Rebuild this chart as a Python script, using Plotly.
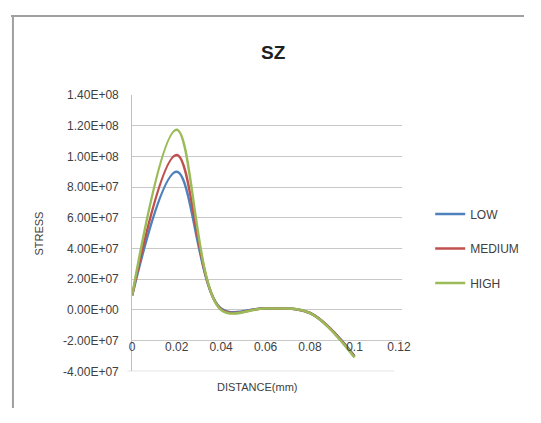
import plotly.graph_objects as go

# ---- data ----
distance = [0, 0.02, 0.04, 0.06, 0.08, 0.1]
low = [9.5e6, 9.0e7, 1.0e6, 1.0e6, -2.0e6, -3.0e7]
medium = [9.5e6, 1.01e8, 0.5e6, 1.0e6, -2.0e6, -3.05e7]
high = [9.5e6, 1.175e8, 0.0, 1.0e6, -2.0e6, -3.1e7]
series_names = ["LOW", "MEDIUM", "HIGH"]
series_colors = ["#4F81BD", "#C0504D", "#9BBB59"]

y_tickvals = [1.4e8, 1.2e8, 1.0e8, 8.0e7, 6.0e7, 4.0e7, 2.0e7, 0, -2.0e7, -4.0e7]
y_ticktext = ["1.40E+08", "1.20E+08", "1.00E+08", "8.00E+07", "6.00E+07",
              "4.00E+07", "2.00E+07", "0.00E+00", "-2.00E+07", "-4.00E+07"]
x_tickvals = [0, 0.02, 0.04, 0.06, 0.08, 0.1, 0.12]
x_ticktext = ["0", "0.02", "0.04", "0.06", "0.08", "0.1", "0.12"]

# page has an 8px body margin; figure sized so the page is 541x423
OFF = 8
W, H = 541 - 2 * OFF, 423 - 2 * OFF
FONT = "Liberation Sans, Arial, sans-serif"
TXT = "#404040"

def px_(x):
    return (x - OFF) / W

def py(y):
    return 1 - (y - OFF) / H

fig = go.Figure()
for i, (name, vals) in enumerate(zip(series_names, [low, medium, high])):
    fig.add_trace(go.Scatter(
        x=distance, y=vals, name=name, mode="lines",
        line=dict(color=series_colors[i], width=2.5, shape="spline", smoothing=1.0),
        legendgroup=name,
    ))

fig.update_layout(
    width=W, height=H,
    margin=dict(l=0, r=0, t=0, b=0),
    paper_bgcolor="white", plot_bgcolor="white",
    font=dict(family=FONT, size=12, color=TXT),
    showlegend=True,
    legend=dict(x=px_(437), y=py(199), xanchor="left", yanchor="top",
                traceorder="grouped", tracegroupgap=15.5,
                font=dict(size=12, color=TXT), bgcolor="rgba(0,0,0,0)"),
    xaxis=dict(domain=[px_(132), px_(408)], range=[0, 0.1213],
               anchor="free", position=py(343),
               showgrid=False, zeroline=False, showline=False,
               tickvals=x_tickvals, ticktext=x_ticktext, ticks="",
               tickfont=dict(size=12, color=TXT)),
    yaxis=dict(domain=[py(377), py(91)], range=[-4.0e7, 1.4e8],
               tickvals=y_tickvals, ticktext=y_ticktext,
               showgrid=True, gridcolor="#c8c8c8", gridwidth=1,
               zeroline=False, showline=True, linecolor="#bfbfbf", linewidth=1,
               ticks="", ticklabelstandoff=10,
               tickfont=dict(size=12, color=TXT)),
    annotations=[
        dict(text="<b>SZ</b>", x=px_(277), y=py(47), xref="paper", yref="paper",
             xanchor="center", yanchor="middle",
             showarrow=False, font=dict(size=19, color="#202020", family=FONT)),
        dict(text="STRESS", x=px_(37), y=py(234), xref="paper", yref="paper",
             xanchor="center", yanchor="middle",
             textangle=-90, showarrow=False, font=dict(size=11, color=TXT)),
        dict(text="DISTANCE(mm)", x=px_(260), y=py(393), xref="paper", yref="paper",
             xanchor="center", yanchor="middle",
             showarrow=False, font=dict(size=11, color=TXT)),
    ],
    shapes=[
        dict(type="line", xref="paper", yref="paper", x0=0, x1=1, y0=py(9), y1=py(9),
             line=dict(color="#a0a0a0", width=2)),
        dict(type="line", xref="paper", yref="paper", x0=px_(10), x1=px_(10), y0=py(9), y1=0,
             line=dict(color="#a0a0a0", width=2)),
        dict(type="line", xref="paper", yref="y", x0=px_(127), x1=px_(400), y0=-4.0e7, y1=-4.0e7,
             line=dict(color="#bfbfbf", width=1)),
    ],
)

fig.write_html("out.html", config={"displayModeBar": False})
